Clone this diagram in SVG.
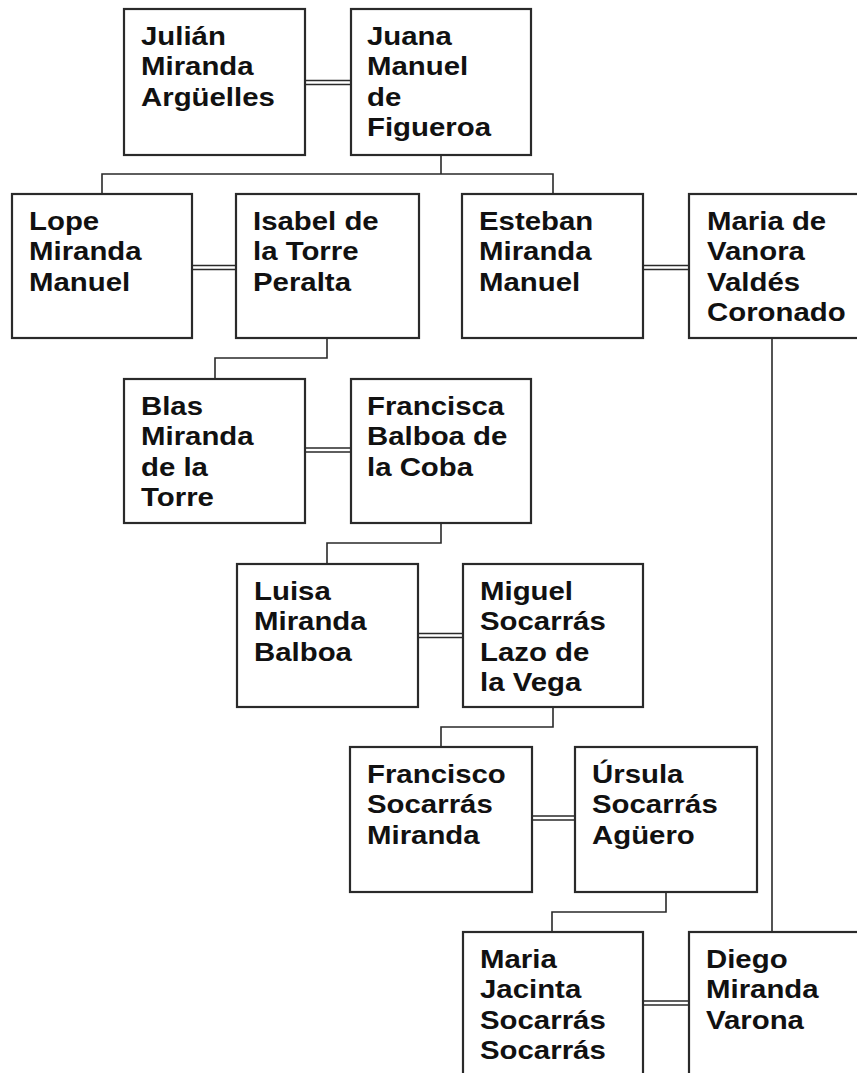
<svg xmlns="http://www.w3.org/2000/svg" width="857" height="1073" viewBox="0 0 857 1073">
<style>
.box{fill:#fff;stroke:#2a2a2a;stroke-width:2.2}
.lbl{font-family:"Liberation Sans",Arial,sans-serif;font-weight:bold;font-size:26px;fill:#111}
.ln{fill:none;stroke:#2a2a2a;stroke-width:1.6}
.dl{fill:none;stroke:#2a2a2a;stroke-width:1.3}
</style>
<rect width="857" height="1073" fill="#fff"/>
<g id="connectors">
<path class="ln" d="M441,155V174M102,194V174H553V194"/>
<path class="ln" d="M327,338V358H215V379"/>
<path class="ln" d="M441,523V543H327V564"/>
<path class="ln" d="M553,707V727H441V747"/>
<path class="ln" d="M666,892V912H552V932"/>
<path class="ln" d="M772,338V932"/>
<path class="dl" d="M305,80.5H351M305,84.5H351"/>
<path class="dl" d="M192,265.5H236M192,269.5H236"/>
<path class="dl" d="M643,265.5H689M643,269.5H689"/>
<path class="dl" d="M305,448H351M305,452H351"/>
<path class="dl" d="M418,633.5H463M418,637.5H463"/>
<path class="dl" d="M532,816H575M532,820H575"/>
<path class="dl" d="M643,1001H689M643,1005H689"/>
</g>
<g id="julian"><rect class="box" x="124" y="9" width="181" height="146"/><text class="lbl" transform="translate(141,45) scale(1.13,1)"><tspan x="0" y="0">Julián</tspan><tspan x="0" y="30.5">Miranda</tspan><tspan x="0" y="61">Argüelles</tspan></text></g>
<g id="juana"><rect class="box" x="351" y="9" width="180" height="146"/><text class="lbl" transform="translate(367,45) scale(1.13,1)"><tspan x="0" y="0">Juana</tspan><tspan x="0" y="30.5">Manuel</tspan><tspan x="0" y="61">de</tspan><tspan x="0" y="91.5">Figueroa</tspan></text></g>
<g id="lope"><rect class="box" x="12" y="194" width="180" height="144"/><text class="lbl" transform="translate(29,230) scale(1.13,1)"><tspan x="0" y="0">Lope</tspan><tspan x="0" y="30.5">Miranda</tspan><tspan x="0" y="61">Manuel</tspan></text></g>
<g id="isabel"><rect class="box" x="236" y="194" width="183" height="144"/><text class="lbl" transform="translate(253,230) scale(1.13,1)"><tspan x="0" y="0">Isabel de</tspan><tspan x="0" y="30.5">la Torre</tspan><tspan x="0" y="61">Peralta</tspan></text></g>
<g id="esteban"><rect class="box" x="462" y="194" width="181" height="144"/><text class="lbl" transform="translate(479,230) scale(1.13,1)"><tspan x="0" y="0">Esteban</tspan><tspan x="0" y="30.5">Miranda</tspan><tspan x="0" y="61">Manuel</tspan></text></g>
<g id="maria-vanora"><rect class="box" x="689" y="194" width="185" height="144"/><text class="lbl" transform="translate(707,230) scale(1.13,1)"><tspan x="0" y="0">Maria de</tspan><tspan x="0" y="30.5">Vanora</tspan><tspan x="0" y="61">Valdés</tspan><tspan x="0" y="91.5">Coronado</tspan></text></g>
<g id="blas"><rect class="box" x="124" y="379" width="181" height="144"/><text class="lbl" transform="translate(141,415) scale(1.13,1)"><tspan x="0" y="0">Blas</tspan><tspan x="0" y="30.5">Miranda</tspan><tspan x="0" y="61">de la</tspan><tspan x="0" y="91.5">Torre</tspan></text></g>
<g id="francisca"><rect class="box" x="351" y="379" width="180" height="144"/><text class="lbl" transform="translate(367,415) scale(1.13,1)"><tspan x="0" y="0">Francisca</tspan><tspan x="0" y="30.5">Balboa de</tspan><tspan x="0" y="61">la Coba</tspan></text></g>
<g id="luisa"><rect class="box" x="237" y="564" width="181" height="143"/><text class="lbl" transform="translate(254,600) scale(1.13,1)"><tspan x="0" y="0">Luisa</tspan><tspan x="0" y="30.5">Miranda</tspan><tspan x="0" y="61">Balboa</tspan></text></g>
<g id="miguel"><rect class="box" x="463" y="564" width="180" height="143"/><text class="lbl" transform="translate(480,600) scale(1.13,1)"><tspan x="0" y="0">Miguel</tspan><tspan x="0" y="30.5">Socarrás</tspan><tspan x="0" y="61">Lazo de</tspan><tspan x="0" y="91.5">la Vega</tspan></text></g>
<g id="francisco"><rect class="box" x="350" y="747" width="182" height="145"/><text class="lbl" transform="translate(367,783) scale(1.13,1)"><tspan x="0" y="0">Francisco</tspan><tspan x="0" y="30.5">Socarrás</tspan><tspan x="0" y="61">Miranda</tspan></text></g>
<g id="ursula"><rect class="box" x="575" y="747" width="182" height="145"/><text class="lbl" transform="translate(592,783) scale(1.13,1)"><tspan x="0" y="0">Úrsula</tspan><tspan x="0" y="30.5">Socarrás</tspan><tspan x="0" y="61">Agüero</tspan></text></g>
<g id="maria-jacinta"><rect class="box" x="463" y="932" width="180" height="160"/><text class="lbl" transform="translate(480,968) scale(1.13,1)"><tspan x="0" y="0">Maria</tspan><tspan x="0" y="30.5">Jacinta</tspan><tspan x="0" y="61">Socarrás</tspan><tspan x="0" y="91.5">Socarrás</tspan></text></g>
<g id="diego"><rect class="box" x="689" y="932" width="185" height="160"/><text class="lbl" transform="translate(706,968) scale(1.13,1)"><tspan x="0" y="0">Diego</tspan><tspan x="0" y="30.5">Miranda</tspan><tspan x="0" y="61">Varona</tspan></text></g>
</svg>
